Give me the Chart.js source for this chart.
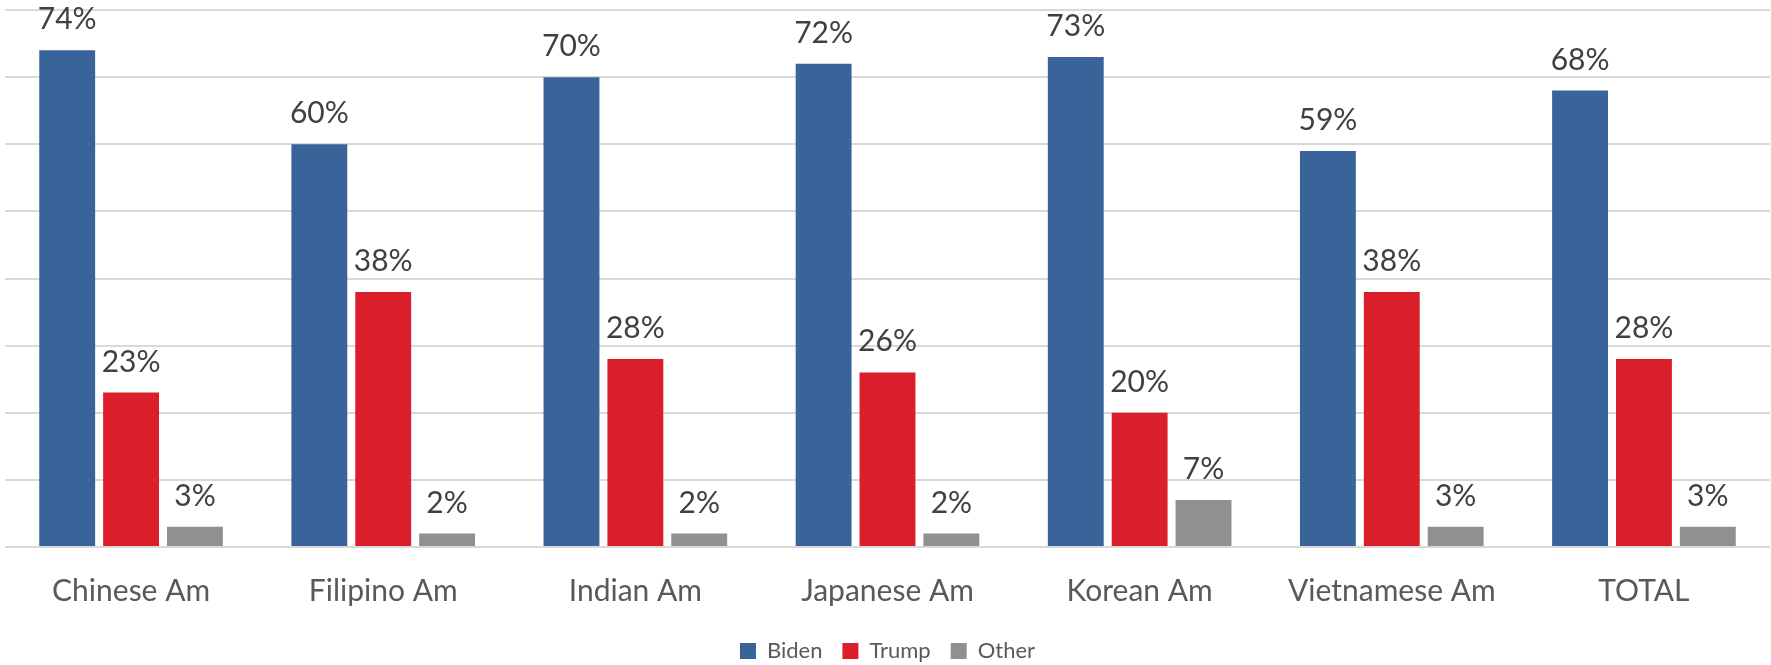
<!DOCTYPE html>
<html>
<head>
<meta charset="utf-8">
<script src="https://cdn.jsdelivr.net/npm/chart.js@4"></script>
<style>
  html, body { margin: 0; padding: 0; background: #fff; }
  #wrap { width: 1771px; height: 665px; }
</style>
</head>
<body>
<div id="wrap"><canvas id="chart"></canvas></div>
<script>
const categories = ['Chinese Am', 'Filipino Am', 'Indian Am', 'Japanese Am', 'Korean Am', 'Vietnamese Am', 'TOTAL']
const biden = [74, 60, 70, 72, 73, 59, 68]
const trump = [23, 38, 28, 26, 20, 38, 28]
const other = [3, 2, 2, 2, 7, 3, 3]

const FONT = 'Lato'

// draws the "74%" labels above each bar
const barLabels = {
  id: 'barLabels',
  afterDatasetsDraw(chart) {
    const ctx = chart.ctx
    ctx.save()
    ctx.font = '30px ' + FONT
    ctx.fillStyle = '#404040'
    ctx.textAlign = 'center'
    ctx.textBaseline = 'alphabetic'
    chart.data.datasets.forEach((ds, i) => {
      chart.getDatasetMeta(i).data.forEach((bar, j) => {
        ctx.fillText(ds.data[j] + '%', bar.x, bar.y - 21)
      })
    })
    ctx.restore()
  }
}

new Chart(document.getElementById('chart'), {
  type: 'bar',
  data: {
    labels: categories,
    datasets: [
      { label: 'Biden', data: biden, backgroundColor: '#38649a' },
      { label: 'Trump', data: trump, backgroundColor: '#db1f2a' },
      { label: 'Other', data: other, backgroundColor: '#909090' }
    ]
  },
  options: {
    responsive: true,
    maintainAspectRatio: false,
    animation: false,
    categoryPercentage: 0.76,
    barPercentage: 0.875,
    layout: { padding: { top: 10, left: 5, right: 1, bottom: -7 } },
    plugins: {
      tooltip: { enabled: false },
      legend: {
        position: 'bottom',
        labels: {
          boxWidth: 16,
          boxHeight: 16,
          padding: 20,
          color: '#595959',
          font: { family: FONT, size: 22 }
        }
      }
    },
    scales: {
      x: {
        grid: { display: false },
        border: { display: false },
        ticks: { color: '#595959', padding: 18, font: { family: FONT, size: 30 } },
        afterFit(scale) { scale.height -= 7 }
      },
      y: {
        min: 0,
        max: 80,
        ticks: { display: false, stepSize: 10 },
        grid: { color: '#d9d9d9', lineWidth: 2, drawTicks: false },
        border: { display: false }
      }
    }
  },
  plugins: [barLabels]
})
</script>
</body>
</html>
